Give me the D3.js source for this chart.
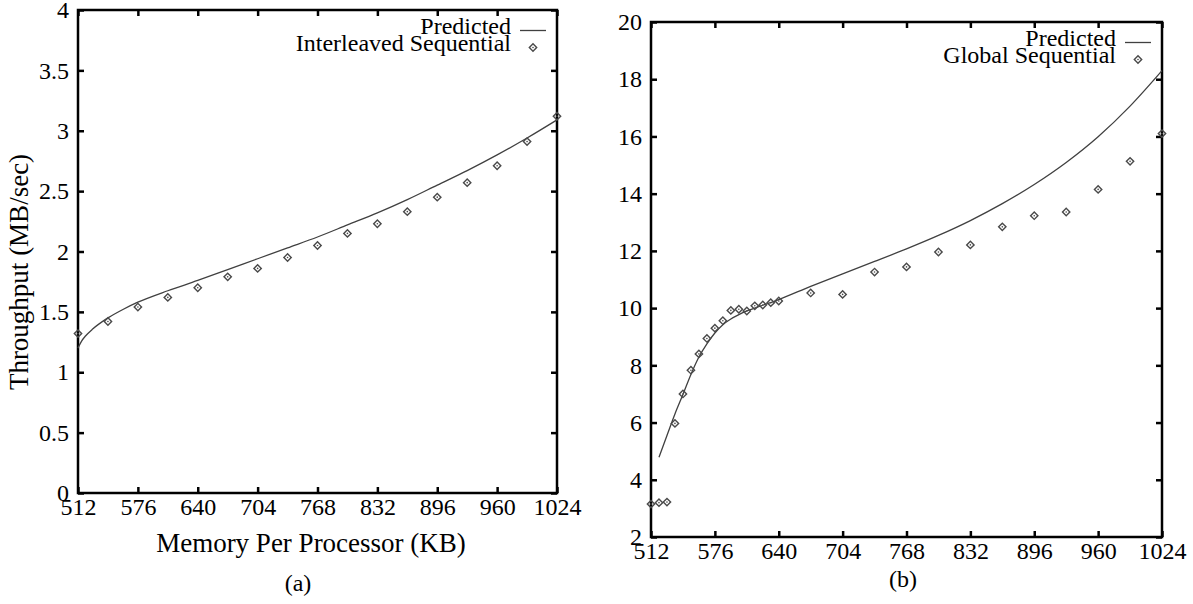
<!DOCTYPE html>
<html>
<head>
<meta charset="utf-8">
<script src="https://cdn.jsdelivr.net/npm/d3@7"></script>
<style>
  body { margin: 0; background: #fff; }
  text { font-family: "Liberation Serif", "Times New Roman", serif; fill: #000; }
</style>
</head>
<body>
<div id="chart"></div>
<script>
// x ticks shared by both panels (KB)
const memTicks = [512, 576, 640, 704, 768, 832, 896, 960, 1024];
const ticksA = [0, 0.5, 1, 1.5, 2, 2.5, 3, 3.5, 4];
const ticksB = [2, 4, 6, 8, 10, 12, 14, 16, 18, 20];

// (a) measured: Interleaved Sequential
const interleavedKB = [512, 544, 576, 608, 640, 672, 704, 736, 768, 800, 832, 864, 896, 928, 960, 992, 1024];
const interleavedMBs = [1.32, 1.42, 1.54, 1.62, 1.70, 1.79, 1.86, 1.95, 2.05, 2.15, 2.23, 2.33, 2.45, 2.57, 2.71, 2.91, 3.12];

// (a) model curve
const predictedAKB = [512, 516, 520, 528, 544, 560, 576, 608, 640, 672, 704, 736, 768, 800, 832, 864, 896, 928, 960, 992, 1024];
const predictedA = [1.20, 1.26, 1.30, 1.36, 1.45, 1.52, 1.58, 1.675, 1.76, 1.85, 1.94, 2.03, 2.12, 2.22, 2.32, 2.43, 2.55, 2.67, 2.80, 2.94, 3.09];

// (b) measured: Global Sequential
const globalKB = [512, 520, 528, 536, 544, 552, 560, 568, 576, 584, 592, 600, 608, 616, 624, 632, 640, 672, 704, 736, 768, 800, 832, 864, 896, 928, 960, 992, 1024];
const globalMBs = [3.15, 3.2, 3.22, 5.97, 7.0, 7.83, 8.40, 8.94, 9.30, 9.56, 9.92, 9.96, 9.90, 10.08, 10.11, 10.19, 10.25, 10.53, 10.48, 11.26, 11.44, 11.96, 12.21, 12.84, 13.23, 13.36, 14.15, 15.13, 16.10];

// (b) model curve
const predictedBKB = [520, 528, 536, 544, 552, 560, 568, 576, 584, 592, 600, 608, 624, 640, 672, 704, 736, 768, 800, 832, 864, 896, 928, 960, 992, 1024];
const predictedB = [4.79, 5.55, 6.3, 6.98, 7.68, 8.29, 8.75, 9.13, 9.42, 9.62, 9.77, 9.9, 10.1, 10.3, 10.76, 11.2, 11.63, 12.07, 12.54, 13.06, 13.65, 14.32, 15.09, 15.99, 17.06, 18.3];

const serif = '"Liberation Serif", "Times New Roman", serif';

const svg = d3.select("#chart")
    .append("svg")
    .attr("width", 1193)
    .attr("height", 604);

function diamond(g, cx, cy) {
    g.append("rect")
        .attr("x", -2.6).attr("y", -2.6)
        .attr("width", 5.2).attr("height", 5.2)
        .attr("transform", `translate(${cx},${cy}) rotate(45)`)
        .attr("fill", "none")
        .attr("stroke", "#4a4a4a")
        .attr("stroke-width", 1.4);
    g.append("circle")
        .attr("cx", cx).attr("cy", cy).attr("r", 0.8)
        .attr("fill", "#4a4a4a");
}

function drawPanel(p) {
    const width = p.x1 - p.x0, height = p.y1 - p.y0;
    const g = svg.append("g").attr("transform", `translate(${p.x0},${p.y0})`);

    const x = d3.scaleLinear().domain([512, 1024]).range([0, width]);
    const y = d3.scaleLinear().domain(p.yDomain).range([height, 0]);

    const styleAxis = sel => {
        sel.select(".domain").remove();
        sel.selectAll(".tick line").attr("stroke", "#000").attr("stroke-width", 2.5);
        sel.selectAll(".tick text")
            .style("font-family", serif)
            .style("font-size", "24px");
    };

    // ticks all point inward, mirrored on top and right
    g.append("g")
        .call(d3.axisLeft(y).tickValues(p.yTicks).tickSize(-6).tickPadding(9).tickFormat(d => String(d)))
        .call(styleAxis);
    g.append("g")
        .attr("transform", `translate(${width},0)`)
        .call(d3.axisRight(y).tickValues(p.yTicks).tickSize(-6).tickFormat(""))
        .call(styleAxis);
    g.append("g")
        .attr("transform", `translate(0,${height})`)
        .call(d3.axisBottom(x).tickValues(memTicks).tickSize(-6).tickPadding(5).tickFormat(d => String(d)))
        .call(styleAxis);
    g.append("g")
        .call(d3.axisTop(x).tickValues(memTicks).tickSize(-6).tickFormat(""))
        .call(styleAxis);

    // frame
    g.append("rect")
        .attr("width", width).attr("height", height)
        .attr("fill", "none").attr("stroke", "#000").attr("stroke-width", 2.5);

    // predicted curve
    const line = d3.line()
        .x((d, i) => x(p.predKB[i]))
        .y(d => y(d))
        .curve(d3.curveMonotoneX);
    g.append("path")
        .datum(p.pred)
        .attr("d", line)
        .attr("fill", "none")
        .attr("stroke", "#404040")
        .attr("stroke-width", 1.3);

    // measured points
    const pts = g.append("g");
    p.measured.forEach((v, i) => diamond(pts, x(p.measKB[i]), y(v)));

    // legend (gnuplot style, rows overlap a little)
    const lx = width - 46;
    g.append("text")
        .attr("x", lx).attr("y", 24)
        .attr("text-anchor", "end")
        .style("font-family", serif).style("font-size", "24px")
        .text("Predicted");
    g.append("line")
        .attr("x1", width - 37).attr("x2", width - 11)
        .attr("y1", 20.5).attr("y2", 20.5)
        .attr("stroke", "#404040").attr("stroke-width", 1.3);
    g.append("text")
        .attr("x", lx).attr("y", 41)
        .attr("text-anchor", "end")
        .style("font-family", serif).style("font-size", "24px")
        .text(p.seriesName);
    diamond(g, width - 24, 37.5);
}

drawPanel({
    x0: 78, x1: 557, y0: 10, y1: 493,
    yDomain: [0, 4], yTicks: ticksA,
    predKB: predictedAKB, pred: predictedA,
    measKB: interleavedKB, measured: interleavedMBs,
    seriesName: "Interleaved Sequential"
});

drawPanel({
    x0: 651, x1: 1162, y0: 22, y1: 537,
    yDomain: [2, 20], yTicks: ticksB,
    predKB: predictedBKB, pred: predictedB,
    measKB: globalKB, measured: globalMBs,
    seriesName: "Global Sequential"
});

// axis titles and captions
svg.append("text")
    .attr("transform", "translate(28,272) rotate(-90)")
    .attr("text-anchor", "middle")
    .style("font-family", serif).style("font-size", "27px")
    .text("Throughput (MB/sec)");
svg.append("text")
    .attr("x", 311).attr("y", 552)
    .attr("text-anchor", "middle")
    .style("font-family", serif).style("font-size", "27px")
    .text("Memory Per Processor (KB)");
svg.append("text")
    .attr("x", 298).attr("y", 591)
    .attr("text-anchor", "middle")
    .style("font-family", serif).style("font-size", "24px")
    .text("(a)");
svg.append("text")
    .attr("x", 903).attr("y", 587)
    .attr("text-anchor", "middle")
    .style("font-family", serif).style("font-size", "24px")
    .text("(b)");
</script>
</body>
</html>
